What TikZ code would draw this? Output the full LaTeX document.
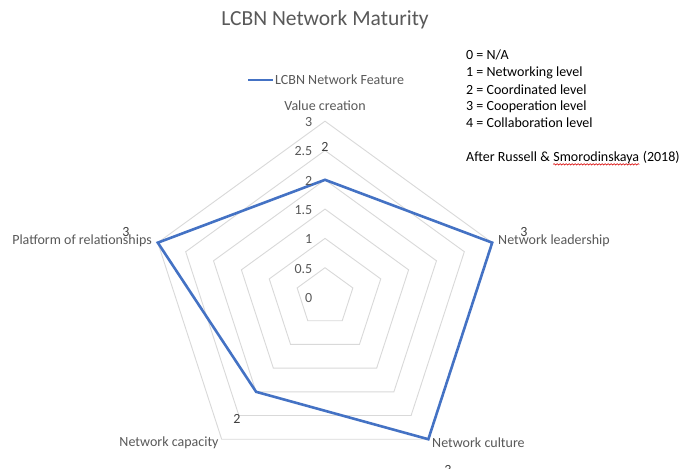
\documentclass[tikz,border=0pt]{standalone}
\usepackage{fontspec}
\setmainfont{Carlito}
\usetikzlibrary{decorations.pathmorphing}
\definecolor{seriesblue}{HTML}{4472C4}
\definecolor{gridgray}{HTML}{D9D9D9}
\definecolor{labelgray}{HTML}{595959}
\definecolor{ticktext}{HTML}{595959}
\tikzset{
  grid ring/.style={draw=gridgray, line width=0.9pt, line join=miter},
  series/.style={draw=seriesblue, line width=2.6pt, line join=miter},
  axislabel/.style={text=labelgray, inner sep=0pt, font=\fontsize{14}{16}\selectfont},
  ticklabel/.style={text=ticktext, inner sep=0pt, anchor=east, font=\fontsize{14}{16}\selectfont},
  datalabel/.style={text=black!75, inner sep=0pt, font=\fontsize{14}{16}\selectfont},
  keytext/.style={text=black, inner sep=0pt, anchor=west, font=\fontsize{14}{16}\selectfont},
}
\begin{document}
\begin{tikzpicture}[x=1pt, y=-1pt]
  \useasboundingbox (0,0) rectangle (679,468);
  \clip (0,0) rectangle (679,468);
  \fill[white] (0,0) rectangle (679,468);

  % title
  \node[text=labelgray, inner sep=0pt, font=\fontsize{21.5}{24}\selectfont] (title) at (325,20) {LCBN Network Maturity};

  % legend
  \coordinate (legA) at (248,80);
  \coordinate (legB) at (273,80);
  \draw[series, line width=2.4pt] (legA) -- (legB);
  \node[axislabel, anchor=west] (legtext) at (275,80) {LCBN Network Feature};

  % level key
  \node[keytext] (k0) at (466,55) {0 = N/A};
  \node[keytext] (k1) at (466,72.5) {1 = Networking level};
  \node[keytext] (k2) at (466,89.5) {2 = Coordinated level};
  \node[keytext] (k3) at (466,106.5) {3 = Cooperation level};
  \node[keytext] (k4) at (466,123) {4 = Collaboration level};
  \node[keytext] (src1) at (466,157) {After Russell \&\ \null};
  \node[keytext, anchor=base west] (src2) at (src1.base east) {Smorodinskaya};
  \node[keytext, anchor=base west] (src3) at (src2.base east) {\ (2018)};
  \draw[red!85!black, line width=0.6pt, decorate,
        decoration={snake, amplitude=0.7pt, segment length=3pt}]
        ([yshift=-2.5pt]src2.base west) -- ([yshift=-2.5pt]src2.base east);

  % radar chart, centred on (325,297), 58.6 units per scale step
  \begin{scope}[shift={(325,297)}, yscale=-1]
    \foreach \v in {0.5,1,1.5,2,2.5,3}{
      \draw[grid ring] (90:58.6*\v) -- (18:58.6*\v) -- (-54:58.6*\v)
        -- (-126:58.6*\v) -- (162:58.6*\v) -- cycle;
    }
    \coordinate (d1) at (90:58.6*2);   % value creation
    \coordinate (d2) at (18:58.6*3);   % network leadership
    \coordinate (d3) at (-54:58.6*3);  % network culture
    \coordinate (d4) at (-126:58.6*2); % network capacity
    \coordinate (d5) at (162:58.6*3);  % platform of relationships
    \draw[series] (d1) -- (d2) -- (d3) -- (d4) -- (d5) -- cycle;
  \end{scope}

  % scale labels
  \foreach \v/\t in {0/0,0.5/0.5,1/1,1.5/1.5,2/2,2.5/2.5,3/3}{
    \node[ticklabel] at (312.5,297-58.6*\v+1) {\t};
  }

  % category labels
  \node[axislabel] (ax1) at (325,106) {Value creation};
  \node[axislabel, anchor=west] (ax2) at (498,241) {Network leadership};
  \node[axislabel, anchor=west] (ax3) at (432,443) {Network culture};
  \node[axislabel] (ax4) at (169,443) {Network capacity};
  \node[axislabel, anchor=east] (ax5) at (152,241) {Platform of relationships};

  % value labels
  \node[datalabel] (v1) at (325,147) {2};
  \node[datalabel] (v2) at (524,232) {3};
  \node[datalabel] (v3) at (448,470) {3};
  \node[datalabel] (v4) at (237,419) {2};
  \node[datalabel] (v5) at (126,232) {3};
\end{tikzpicture}
\end{document}
